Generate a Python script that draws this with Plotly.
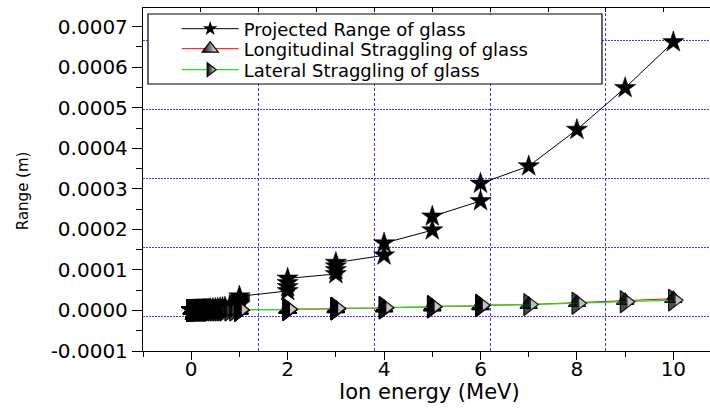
import plotly.graph_objects as go

# Ion energy (MeV) as plotted; values at and above 1 MeV sit on whole-number positions
energy_mev = [
    0.01, 0.011, 0.012, 0.013, 0.014, 0.016, 0.018, 0.02, 0.0225, 0.025,
    0.0275, 0.03, 0.0325, 0.035, 0.0375, 0.04, 0.045, 0.05, 0.055, 0.06,
    0.065, 0.07, 0.08, 0.09, 0.1, 0.11, 0.12, 0.13, 0.14, 0.16,
    0.18, 0.2, 0.225, 0.25, 0.275, 0.3, 0.325, 0.35, 0.375, 0.4,
    0.45, 0.5, 0.55, 0.6, 0.65, 0.7, 0.8, 0.9,
    1, 1, 1, 1, 1, 1, 1,
    2, 2, 2, 2,
    3, 3, 3, 3,
    4, 4,
    5, 5,
    6, 6,
    7, 8, 9, 10,
]

# Projected range (m)
projected_range_m = [
    1.2e-7, 1.3e-7, 1.4e-7, 1.5e-7, 1.6e-7, 1.8e-7, 2.0e-7, 2.2e-7, 2.4e-7, 2.6e-7,
    2.8e-7, 3.0e-7, 3.2e-7, 3.4e-7, 3.6e-7, 3.8e-7, 4.1e-7, 4.5e-7, 4.9e-7, 5.2e-7,
    5.6e-7, 5.9e-7, 6.6e-7, 7.3e-7, 8.0e-7, 8.7e-7, 9.4e-7, 1.01e-6, 1.08e-6, 1.23e-6,
    1.38e-6, 1.54e-6, 1.75e-6, 1.97e-6, 2.2e-6, 2.44e-6, 2.7e-6, 2.96e-6, 3.24e-6, 3.53e-6,
    4.15e-6, 4.8e-6, 5.5e-6, 6.3e-6, 7.1e-6, 7.9e-6, 9.7e-6, 1.16e-5,
    1.4e-5, 1.7e-5, 2.0e-5, 2.3e-5, 2.6e-5, 3.0e-5, 3.5e-5,
    4.8e-5, 5.8e-5, 6.8e-5, 7.9e-5,
    9.0e-5, 1.0e-4, 1.09e-4, 1.18e-4,
    1.36e-4, 1.66e-4,
    1.98e-4, 2.32e-4,
    2.70e-4, 3.13e-4,
    3.56e-4, 4.46e-4, 5.49e-4, 6.62e-4,
]

# Longitudinal straggling (m)
longitudinal_straggling_m = [
    4.0e-8, 4.3e-8, 4.6e-8, 4.9e-8, 5.2e-8, 5.7e-8, 6.2e-8, 6.7e-8, 7.2e-8, 7.8e-8,
    8.3e-8, 8.8e-8, 9.3e-8, 9.7e-8, 1.02e-7, 1.06e-7, 1.14e-7, 1.22e-7, 1.29e-7, 1.36e-7,
    1.42e-7, 1.48e-7, 1.6e-7, 1.7e-7, 1.8e-7, 1.89e-7, 1.97e-7, 2.05e-7, 2.12e-7, 2.26e-7,
    2.39e-7, 2.52e-7, 2.67e-7, 2.82e-7, 2.97e-7, 3.12e-7, 3.27e-7, 3.43e-7, 3.59e-7, 3.76e-7,
    4.12e-7, 4.5e-7, 4.9e-7, 5.3e-7, 5.7e-7, 6.1e-7, 7.0e-7, 7.9e-7,
    8.9e-7, 1.0e-6, 1.1e-6, 1.2e-6, 1.3e-6, 1.5e-6, 1.8e-6,
    2.1e-6, 2.5e-6, 2.9e-6, 3.3e-6,
    3.8e-6, 4.3e-6, 4.8e-6, 5.3e-6,
    5.9e-6, 7.1e-6,
    8.4e-6, 9.8e-6,
    1.12e-5, 1.28e-5,
    1.45e-5, 1.9e-5, 2.4e-5, 2.9e-5,
]

# Lateral straggling (m)
lateral_straggling_m = [
    6.0e-8, 6.4e-8, 6.8e-8, 7.2e-8, 7.6e-8, 8.3e-8, 9.0e-8, 9.7e-8, 1.05e-7, 1.13e-7,
    1.2e-7, 1.27e-7, 1.34e-7, 1.4e-7, 1.47e-7, 1.53e-7, 1.65e-7, 1.77e-7, 1.88e-7, 1.99e-7,
    2.1e-7, 2.2e-7, 2.4e-7, 2.6e-7, 2.8e-7, 2.98e-7, 3.16e-7, 3.34e-7, 3.52e-7, 3.88e-7,
    4.24e-7, 4.6e-7, 5.0e-7, 5.3e-7, 5.6e-7, 5.9e-7, 6.2e-7, 6.5e-7, 6.8e-7, 7.1e-7,
    7.5e-7, 7.8e-7, 8.0e-7, 8.2e-7, 8.4e-7, 8.5e-7, 8.7e-7, 8.9e-7,
    8.5e-7, 9.6e-7, 1.07e-6, 1.18e-6, 1.3e-6, 1.52e-6, 1.75e-6,
    2.05e-6, 2.45e-6, 2.85e-6, 3.3e-6,
    3.75e-6, 4.25e-6, 4.75e-6, 5.3e-6,
    5.9e-6, 7.2e-6,
    8.5e-6, 9.9e-6,
    1.13e-5, 1.29e-5,
    1.45e-5, 1.78e-5, 2.15e-5, 2.55e-5,
]

series_names = [
    "Projected Range of glass",
    "Longitudinal Straggling of glass",
    "Lateral Straggling of glass",
]

x_tick_vals = [0, 2, 4, 6, 8, 10]
x_tick_text = ["0", "2", "4", "6", "8", "10"]
y_tick_vals = [-0.0001, 0.0, 0.0001, 0.0002, 0.0003, 0.0004, 0.0005, 0.0006, 0.0007]
y_tick_text = ["-0.0001", "0.0000", "0.0001", "0.0002", "0.0003",
               "0.0004", "0.0005", "0.0006", "0.0007"]

x_title = "Ion energy (MeV)"
y_title = "Range (m)"

FONT = "DejaVu Sans"
X_RANGE = [-1.0, 10.76]
Y_RANGE = [-0.0001, 0.000746]
GRID_BLUE = "#3c3cff"
LONG_RED = "#ff0000"
LAT_GREEN = "#22dd22"


def half_filled(xs, ys, parts):
    """Repeat every point once per marker layer so that each point is
    drawn completely (black body, white half, outline) before the next."""
    n = len(parts)
    return dict(
        x=[x for x in xs for _ in range(n)],
        y=[y for y in ys for _ in range(n)],
        marker=dict(
            symbol=[p["symbol"] for p in parts] * len(xs),
            size=[p["size"] for p in parts] * len(xs),
            color=[p["color"] for p in parts] * len(xs),
            angle=[p.get("angle", 0) for p in parts] * len(xs),
            standoff=[p.get("standoff", 0) for p in parts] * len(xs),
            line=dict(color="black",
                      width=[p.get("lw", 1.2) for p in parts] * len(xs)),
        ),
    )


# up triangle, left half black
TRI_UP = 15
tri_up_parts = [
    dict(symbol="triangle-up", size=TRI_UP, color="black"),
    dict(symbol="triangle-nw", size=TRI_UP * 0.625, color="white",
         angle=-90, standoff=TRI_UP / 4, lw=0),
    dict(symbol="triangle-up-open", size=TRI_UP, color="black"),
]

# right-pointing triangle, left half black
TRI_RIGHT = 19
tri_right_parts = [
    dict(symbol="triangle-right", size=TRI_RIGHT, color="black"),
    dict(symbol="triangle-down", size=TRI_RIGHT / 2, color="white",
         angle=-90, standoff=TRI_RIGHT / 4, lw=0),
    dict(symbol="triangle-right-open", size=TRI_RIGHT, color="black"),
]

fig = go.Figure()

# projected range
fig.add_trace(go.Scatter(
    x=energy_mev, y=projected_range_m, mode="lines+markers", showlegend=False,
    line=dict(color="black", width=1),
    marker=dict(symbol="star", size=16, color="black",
                line=dict(color="black", width=0.5)),
))

# longitudinal straggling
fig.add_trace(go.Scatter(
    x=energy_mev, y=longitudinal_straggling_m, mode="lines", showlegend=False,
    line=dict(color=LONG_RED, width=1),
))
fig.add_trace(go.Scatter(
    mode="markers", showlegend=False,
    **half_filled(energy_mev, longitudinal_straggling_m, tri_up_parts),
))

# lateral straggling
fig.add_trace(go.Scatter(
    x=energy_mev, y=lateral_straggling_m, mode="lines", showlegend=False,
    line=dict(color=LAT_GREEN, width=1.3),
))
fig.add_trace(go.Scatter(
    mode="markers", showlegend=False,
    **half_filled(energy_mev, lateral_straggling_m, tri_right_parts),
))

# legend entries
fig.add_trace(go.Scatter(
    x=[None], y=[None], name=series_names[0], mode="lines+markers",
    legend="legend", line=dict(color="black", width=1),
    marker=dict(symbol="star", size=11, color="black"),
))
fig.add_trace(go.Scatter(
    x=[None], y=[None], name=series_names[1], mode="lines+markers",
    legend="legend2", line=dict(color=LONG_RED, width=1),
    marker=dict(symbol="triangle-up", size=14, color="black",
                gradient=dict(type="horizontal", color="white"),
                line=dict(color="black", width=1.2)),
))
fig.add_trace(go.Scatter(
    x=[None], y=[None], name=series_names[2], mode="lines+markers",
    legend="legend3", line=dict(color=LAT_GREEN, width=1.3),
    marker=dict(symbol="triangle-right", size=12, color="black",
                gradient=dict(type="horizontal", color="white"),
                line=dict(color="black", width=1.2)),
))

# empty trace that brings the top / secondary grid axes into the subplot
fig.add_trace(go.Scatter(x=[], y=[], xaxis="x2", yaxis="y2",
                         showlegend=False, hoverinfo="skip"))

tick_font = dict(family=FONT, size=20, color="black")

fig.update_layout(
    width=710, height=415, autosize=False,
    margin=dict(l=143, r=0, t=8, b=64, pad=0),
    paper_bgcolor="white", plot_bgcolor="white",
    font=dict(family=FONT, color="black"),
    xaxis=dict(
        range=X_RANGE, tickvals=x_tick_vals, ticktext=x_tick_text,
        ticks="outside", ticklen=8, tickwidth=1.2, tickcolor="black",
        ticklabelstandoff=-8,
        minor=dict(dtick=1, tick0=0, ticks="outside", ticklen=5,
                   tickwidth=1.2, tickcolor="black", showgrid=False),
        showline=True, linecolor="black", linewidth=1.3,
        showgrid=False, zeroline=False, tickfont=tick_font,
    ),
    yaxis=dict(
        range=Y_RANGE, tickvals=y_tick_vals, ticktext=y_tick_text,
        ticks="outside", ticklen=10, tickwidth=1.2, tickcolor="black",
        minor=dict(dtick=0.00005, tick0=0, ticks="outside", ticklen=6,
                   tickwidth=1.2, tickcolor="black", showgrid=False),
        showline=True, linecolor="black", linewidth=1.3,
        showgrid=False, zeroline=False, tickfont=tick_font,
    ),
    xaxis2=dict(
        overlaying="x", side="top", anchor="y", range=X_RANGE,
        tick0=-1, dtick=2.4, ticks="inside", ticklen=4, tickwidth=1.2,
        tickcolor="black", showticklabels=False,
        minor=dict(tick0=-1, dtick=1.2, ticks="inside", ticklen=4,
                   tickwidth=1.2, tickcolor="black", showgrid=False),
        showline=True, linecolor="black", linewidth=1.3,
        showgrid=True, gridcolor=GRID_BLUE, gridwidth=1, griddash="3px,2px",
        zeroline=False,
    ),
    yaxis2=dict(
        overlaying="y", side="right", anchor="x", range=Y_RANGE,
        tick0=-0.0000148, dtick=0.0001702, ticks="", showticklabels=False,
        showline=False, showgrid=True, gridcolor=GRID_BLUE, gridwidth=1,
        griddash="2px,1px", zeroline=False,
    ),
    showlegend=True,
)

legend_common = dict(
    xref="paper", yref="paper", x=0.0594, xanchor="left", yanchor="middle",
    bgcolor="rgba(0,0,0,0)", borderwidth=0, itemwidth=57,
    itemsizing="trace", font=dict(family=FONT, size=18, color="black"),
)
fig.update_layout(
    legend=dict(y=0.9388, **legend_common),
    legend2=dict(y=0.8805, **legend_common),
    legend3=dict(y=0.8192, **legend_common),
)

# legend frame
fig.add_shape(type="rect", xref="paper", yref="paper",
              x0=0.0088, x1=0.8095, y0=0.7784, y1=0.9825,
              line=dict(color="black", width=1.2), fillcolor="white",
              layer="above")

# axis titles
fig.add_annotation(text=x_title, xref="paper", yref="paper",
                   x=0.5061, y=-0.1195, xanchor="center", yanchor="middle",
                   showarrow=False, font=dict(family=FONT, size=21, color="black"))
fig.add_annotation(text=y_title, xref="paper", yref="paper",
                   x=-0.2116, y=0.466, xanchor="center", yanchor="middle",
                   textangle=-90, showarrow=False,
                   font=dict(family=FONT, size=15, color="black"))

fig.write_html("out.html")
